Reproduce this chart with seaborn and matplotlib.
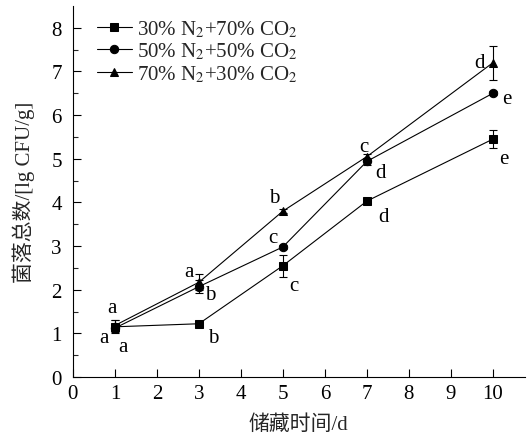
import numpy as np
import pandas as pd
import matplotlib
matplotlib.use("Agg")
import matplotlib.pyplot as plt
import seaborn as sns

# Storage days and total colony counts (lg CFU/g) for the three gas mixtures
days = [1, 3, 5, 7, 10]
groups = ["30% N$_2$+70% CO$_2$", "50% N$_2$+50% CO$_2$", "70% N$_2$+30% CO$_2$"]
counts_30n = [1.15, 1.22, 2.55, 4.03, 5.45]
counts_50n = [1.12, 2.07, 2.98, 4.94, 6.50]
counts_70n = [1.18, 2.17, 3.80, 5.05, 7.20]
err_30n = [0.15, 0.04, 0.25, 0.05, 0.20]
err_50n = [0.10, 0.15, 0.05, 0.08, 0.05]
err_70n = [0.12, 0.18, 0.04, 0.05, 0.39]
# Significance letters
letters_30n = ["a", "b", "c", "d", "e"]
letters_50n = ["a", "b", "c", "d", "e"]
letters_70n = ["a", "a", "b", "c", "d"]

# Letter offsets in points (dx, dy)
offs_30n = [(-8, -8), (10, -10), (8, -14), (12, -11), (8, -14)]
offs_50n = [(6, -13), (8, -6), (-7, 7), (10, -8), (10, -4)]
offs_70n = [(-2, 13), (-7, 8), (-6, 10), (-2, 7), (-10, 0)]

FS = 15

sns.set_theme(style="ticks")
plt.rcParams["font.family"] = ["Liberation Serif", "Noto Sans CJK SC"]
plt.rcParams["mathtext.fontset"] = "stix"
plt.rcParams["axes.unicode_minus"] = False

df = pd.DataFrame({
    "day": days * 3,
    "count": counts_30n + counts_50n + counts_70n,
    "group": [groups[0]] * 5 + [groups[1]] * 5 + [groups[2]] * 5,
})

fig = plt.figure(figsize=(5.28, 4.35), dpi=100)
ax = fig.add_axes([0.138, 0.131, 0.856, 0.853])

sns.lineplot(data=df, x="day", y="count", hue="group", style="group",
             markers=["s", "o", "^"], dashes=False,
             palette=["black"] * 3, markersize=6, linewidth=0.8,
             markeredgecolor="black", ax=ax)

for vals, errs in [(counts_30n, err_30n), (counts_50n, err_50n), (counts_70n, err_70n)]:
    ax.errorbar(days, vals, yerr=errs, fmt="none", ecolor="black",
                elinewidth=0.8, capsize=3, capthick=0.8)

for vals, letters, offs in [(counts_30n, letters_30n, offs_30n),
                            (counts_50n, letters_50n, offs_50n),
                            (counts_70n, letters_70n, offs_70n)]:
    for d, v, t, o in zip(days, vals, letters, offs):
        ax.annotate(t, (d, v), xytext=o, textcoords="offset points",
                    ha="center", va="center", fontsize=FS, color="black")

ax.set_xlim(0, 10.76)
ax.set_ylim(0, 8.5)
ax.set_xticks(range(0, 11))
ax.set_yticks(range(0, 9))
ax.set_yticks(np.arange(0.5, 8.5, 1), minor=True)
ax.tick_params(axis="both", which="major", direction="in", length=6,
               width=0.8, labelsize=FS, colors="black")
ax.tick_params(axis="y", which="minor", direction="in", length=3.5, width=0.8)
ax.tick_params(axis="x", pad=5)
ax.tick_params(axis="y", pad=8)

for s in ["top", "right"]:
    ax.spines[s].set_visible(False)
for s in ["left", "bottom"]:
    ax.spines[s].set_linewidth(0.8)
    ax.spines[s].set_color("black")

ax.set_xlabel("储藏时间/d", fontsize=FS, labelpad=8)
ax.set_ylabel("菌落总数/[lg CFU/g]", fontsize=FS, labelpad=12)

ax.legend(loc="upper left", bbox_to_anchor=(0.025, 1.0), frameon=False,
          fontsize=FS, handlelength=1.7, handletextpad=0.25, labelspacing=0.08,
          borderaxespad=0.2)

fig.savefig("out.png", dpi=100)
